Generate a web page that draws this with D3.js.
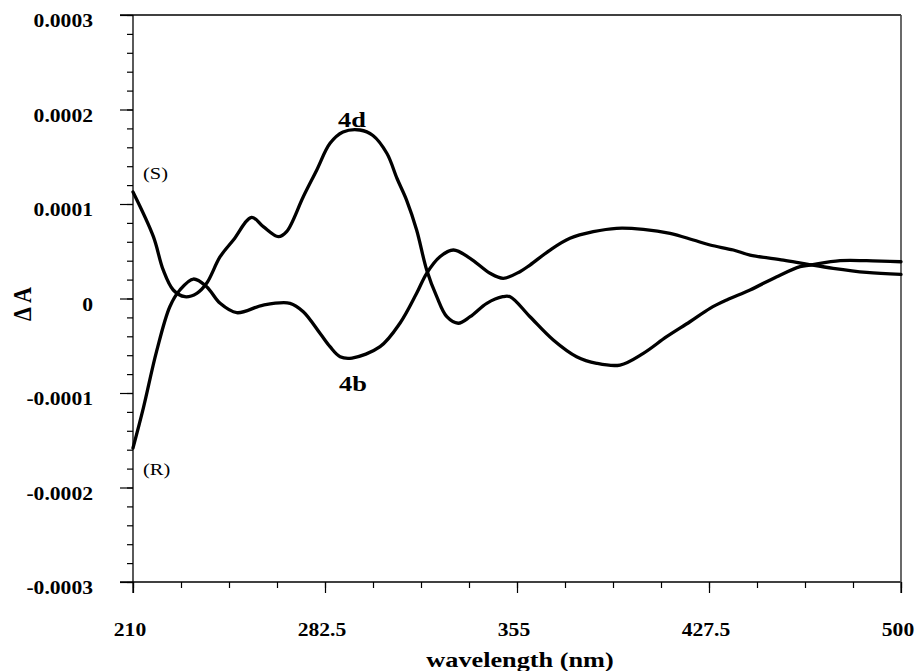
<!DOCTYPE html>
<html>
<head>
<meta charset="utf-8">
<script src="https://cdn.jsdelivr.net/npm/d3@7"></script>
<style>
  html, body { margin: 0; padding: 0; background: #fff; }
  svg { display: block; }
</style>
</head>
<body>
<svg id="chart" width="916" height="671"></svg>
<script>
// ---- data (ΔA in units of 1e-4) ----
const wl4d = [210, 217.7, 221.4, 225.2, 229.6, 234.1, 237.8, 242.9, 247.9, 254.8, 259.2, 264.9, 268.0, 274.3, 279.4, 284.4, 289.3, 295.7, 300.6, 305.9, 309.7, 313.3, 317.1, 320.9, 324.7, 328.5, 332.8, 337.3, 343.6, 349.6, 352.4, 359.9, 368.7, 377.5, 385.1, 393.9, 402.7, 411.5, 420.3, 427.9, 434.2, 443.0, 453.1, 461.9, 465.7, 477.0, 487.0, 500];
const val4d = [1.127, 0.654, 0.302, 0.090, 0.019, 0.055, 0.161, 0.442, 0.619, 0.859, 0.760, 0.654, 0.707, 1.077, 1.360, 1.642, 1.762, 1.783, 1.725, 1.534, 1.270, 1.042, 0.725, 0.302, 0.019, -0.193, -0.262, -0.193, -0.051, 0.019, 0.019, -0.193, -0.439, -0.616, -0.686, -0.704, -0.580, -0.404, -0.246, -0.104, -0.016, 0.090, 0.231, 0.337, 0.354, 0.400, 0.400, 0.389];

const wl4b = [210, 213.9, 218.9, 223.9, 227.7, 232.8, 237.8, 242.9, 249.2, 259.2, 269.3, 274.3, 280.6, 284.4, 288.2, 292.7, 303.3, 310.8, 317.1, 320.9, 325.9, 331.0, 337.3, 344.8, 349.8, 356.1, 359.9, 367.5, 375.0, 383.8, 392.6, 402.7, 412.8, 421.6, 427.9, 436.7, 443.0, 455.6, 464.4, 474.4, 487.0, 500];
const val4b = [-1.582, -1.160, -0.560, -0.087, 0.090, 0.206, 0.125, -0.051, -0.150, -0.069, -0.051, -0.140, -0.368, -0.510, -0.616, -0.630, -0.510, -0.262, 0.055, 0.267, 0.442, 0.513, 0.425, 0.267, 0.214, 0.284, 0.354, 0.513, 0.637, 0.707, 0.743, 0.732, 0.690, 0.619, 0.566, 0.513, 0.460, 0.407, 0.365, 0.320, 0.277, 0.256];

const xTicks = [210, 282.5, 355, 427.5, 500];
const xTickLabels = ["210", "282.5", "355", "427.5", "500"];
const yTicks = [0.0003, 0.0002, 0.0001, 0, -0.0001, -0.0002, -0.0003];
const yTickLabels = ["0.0003", "0.0002", "0.0001", "0", "-0.0001", "-0.0002", "-0.0003"];

// ---- layout ----
const L = 133, R = 901, T = 15, B = 582;
const SERIF = "'Liberation Serif', 'Times New Roman', serif";
const SX = 1.2; // horizontal stretch of the printed type
const svg = d3.select("#chart");
const x = d3.scaleLinear().domain([210, 500]).range([L, R]);
const y = d3.scaleLinear().domain([-0.0003, 0.0003]).range([B, T]);

const xMinor = d3.range(0, 17).map(i => 210 + i * 18.125);
const yMinor = d3.range(0, 31).map(i => -0.0003 + i * 0.00002);

// frame lines
svg.append("line").attr("x1", L - 13).attr("x2", R).attr("y1", T).attr("y2", T).attr("stroke", "#000").attr("stroke-width", 1.3);
svg.append("line").attr("x1", L - 13).attr("x2", R).attr("y1", B).attr("y2", B).attr("stroke", "#000").attr("stroke-width", 1.3);
svg.append("line").attr("x1", L).attr("x2", L).attr("y1", T).attr("y2", B + 11).attr("stroke", "#000").attr("stroke-width", 1.3);
svg.append("line").attr("x1", R).attr("x2", R).attr("y1", T).attr("y2", B + 11).attr("stroke", "#444").attr("stroke-width", 1.6);

// x axis ticks
const gxm = svg.append("g").attr("transform", `translate(0,${B})`)
  .call(d3.axisBottom(x).tickValues(xMinor).tickSize(6).tickFormat(""));
gxm.select(".domain").remove();
const gx = svg.append("g").attr("transform", `translate(0,${B})`)
  .call(d3.axisBottom(x).tickValues(xTicks).tickSize(11).tickFormat(""));
gx.select(".domain").remove();

// y axis ticks
const gym = svg.append("g").attr("transform", `translate(${L},0)`)
  .call(d3.axisLeft(y).tickValues(yMinor).tickSize(6).tickFormat(""));
gym.select(".domain").remove();
const gy = svg.append("g").attr("transform", `translate(${L},0)`)
  .call(d3.axisLeft(y).tickValues(yTicks).tickSize(13).tickFormat(""));
gy.select(".domain").remove();
svg.selectAll(".tick line").attr("stroke", "#000").attr("stroke-width", 1.2);

function label(px, py, txt, size, weight, anchor, sx) {
  return svg.append("text")
    .attr("transform", `translate(${px},${py}) scale(${sx},1)`)
    .attr("text-anchor", anchor)
    .style("font-family", SERIF)
    .style("font-size", size + "px")
    .style("font-weight", weight)
    .style("fill", "#000")
    .text(txt);
}

// tick labels
xTicks.forEach((v, i) => label(x(v) - 3, 636, xTickLabels[i], 18, "bold", "middle", SX));
yTicks.forEach((v, i) => label(93, y(v) + 12, yTickLabels[i], 18, "bold", "end", SX));

// curves
const line = d3.line()
  .x(d => x(d[0]))
  .y(d => y(d[1] * 1e-4))
  .curve(d3.curveCatmullRom.alpha(0.5));

const s4d = wl4d.map((w, i) => [w, val4d[i]]);
const s4b = wl4b.map((w, i) => [w, val4b[i]]);
[s4d, s4b].forEach(s => svg.append("path").datum(s).attr("d", line)
  .attr("fill", "none").attr("stroke", "#000").attr("stroke-width", 3.3)
  .attr("stroke-linejoin", "round").attr("stroke-linecap", "round"));

// annotations
label(143, 179, "(S)", 17, "normal", "start", SX);
label(143, 475, "(R)", 17, "normal", "start", SX);
label(352, 127, "4d", 22, "bold", "middle", SX);
label(353, 391, "4b", 22, "bold", "middle", SX);

// axis titles
label(520, 667, "wavelength (nm)", 21, "bold", "middle", 1.25);
svg.append("text")
  .attr("transform", "translate(31,304) rotate(-90) scale(1,1.15)")
  .attr("text-anchor", "middle")
  .style("font-family", SERIF).style("font-size", "22px").style("font-weight", "bold")
  .text("Δ A");
</script>
</body>
</html>
